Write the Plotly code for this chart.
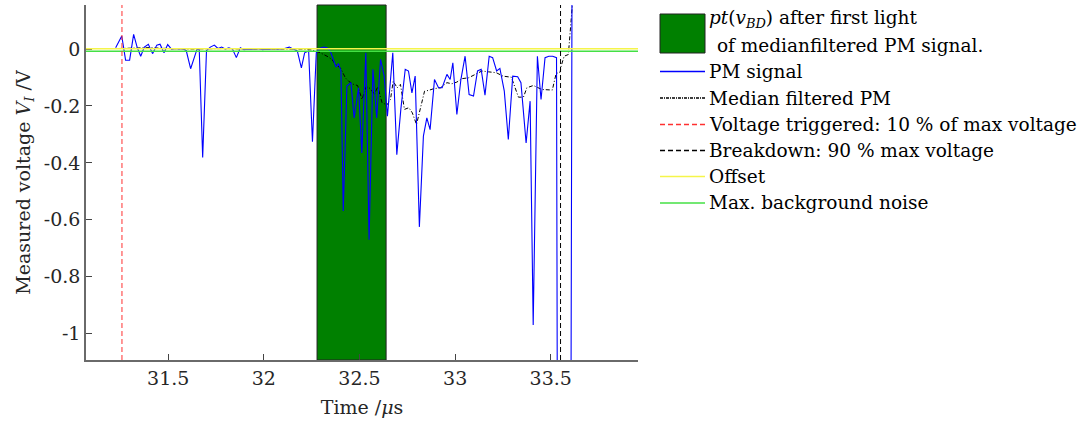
import plotly.graph_objects as go

# ---- data ----
pm_time = [31.225, 31.257, 31.277, 31.298, 31.319, 31.338, 31.356, 31.375, 31.396, 31.418,
           31.440, 31.457, 31.478, 31.497, 31.518, 31.537, 31.556, 31.575, 31.594, 31.617,
           31.636, 31.650, 31.662, 31.680, 31.700, 31.720, 31.741, 31.760, 31.779, 31.798,
           31.817, 31.836, 31.856, 31.877, 31.896, 31.915, 31.935, 31.954, 31.973, 31.993,
           32.012, 32.031, 32.050, 32.070, 32.089, 32.108, 32.133, 32.155, 32.175, 32.196,
           32.213, 32.234, 32.254, 32.274, 32.293, 32.312, 32.330, 32.347, 32.364, 32.377,
           32.390, 32.403, 32.415, 32.434, 32.455, 32.472, 32.495, 32.512, 32.533, 32.550,
           32.570, 32.590, 32.610, 32.629, 32.646, 32.674, 32.695, 32.716, 32.739, 32.756,
           32.774, 32.791, 32.813, 32.834, 32.852, 32.869, 32.892, 32.913, 32.932, 32.957,
           32.974, 32.988, 33.009, 33.030, 33.052, 33.073, 33.096, 33.117, 33.136, 33.156,
           33.178, 33.196, 33.217, 33.234, 33.257, 33.278, 33.301, 33.327, 33.344, 33.371,
           33.392, 33.408, 33.430, 33.449, 33.470, 33.490, 33.510, 33.530, 33.550, 33.570,
           33.592, 33.612]
pm_volt = [0.005, 0.046, -0.039, -0.039, 0.052, 0.005, -0.025, 0.007, 0.017, -0.016,
           0.014, 0.017, -0.013, 0.016, -0.001, 0.002, 0.000, 0.001, -0.005, -0.069,
           -0.030, -0.001, 0.000, -0.381, -0.005, 0.007, 0.014, 0.002, 0.007, 0.000,
           0.004, 0.000, -0.030, 0.005, -0.002, 0.000, -0.001, 0.000, 0.001, -0.002,
           0.000, -0.001, 0.002, -0.001, 0.000, 0.002, 0.007, -0.001, -0.007, -0.066,
           -0.013, -0.007, -0.326, -0.013, 0.003, 0.007, 0.005, -0.007, -0.036, -0.063,
           -0.051, -0.077, -0.569, -0.130, -0.118, -0.242, -0.136, -0.365, -0.013, -0.670,
           -0.071, -0.242, -0.036, -0.095, -0.236, -0.013, -0.371, -0.212, -0.071, -0.077,
           -0.154, -0.095, -0.625, -0.306, -0.242, -0.283, -0.107, -0.136, -0.136, -0.089,
           -0.107, -0.048, -0.230, -0.107, -0.025, -0.160, -0.165, -0.077, -0.071, -0.162,
           -0.025, -0.030, -0.077, -0.068, -0.148, -0.318, -0.095, -0.097, -0.118, -0.330,
           -0.183, -0.970, -0.025, -0.177, -0.030, -0.025, -0.025, -0.030, -6.0, -6.0,
           -5.0, 0.5]

med_time = [31.240, 31.300, 31.400, 31.500, 31.600, 31.700, 31.800, 31.900, 32.000, 32.100,
            32.200, 32.250, 32.274, 32.295, 32.330, 32.356, 32.374, 32.400, 32.426, 32.443,
            32.469, 32.490, 32.513, 32.536, 32.557, 32.578, 32.595, 32.618, 32.644, 32.662,
            32.676, 32.697, 32.714, 32.735, 32.758, 32.776, 32.798, 32.819, 32.840, 32.862,
            32.889, 32.924, 32.957, 32.983, 33.009, 33.035, 33.070, 33.105, 33.140, 33.175,
            33.215, 33.250, 33.294, 33.331, 33.357, 33.375, 33.409, 33.453, 33.508, 33.528,
            33.549, 33.554, 33.570, 33.592, 33.601, 33.612]
med_volt = [0.002, 0.003, 0.005, 0.002, 0.000, 0.001, 0.002, 0.000, 0.000, 0.001,
            0.000, -0.003, -0.007, -0.013, -0.025, -0.036, -0.054, -0.066, -0.101, -0.113,
            -0.124, -0.128, -0.177, -0.132, -0.139, -0.160, -0.132, -0.189, -0.196, -0.177,
            -0.113, -0.136, -0.124, -0.212, -0.206, -0.224, -0.265, -0.201, -0.148, -0.145,
            -0.139, -0.136, -0.118, -0.122, -0.116, -0.104, -0.101, -0.089, -0.077, -0.080,
            -0.083, -0.095, -0.099, -0.169, -0.169, -0.136, -0.128, -0.142, -0.144, -0.086,
            -0.081, -0.060, -0.025, -0.019, 0.058, 0.150]

t_trigger = 31.258
t_breakdown = 33.551
window_start = 32.278
window_end = 32.639
offset_level = 0.001
noise_level = -0.008

x_range = [31.07, 33.956]
y_range = [-1.093, 0.155]
x_ticks = [31.5, 32, 32.5, 33, 33.5]
x_ticktext = ["31.5", "32", "32.5", "33", "33.5"]
y_ticks = [-1, -0.8, -0.6, -0.4, -0.2, 0]
y_ticktext = ["-1", "-0.8", "-0.6", "-0.4", "-0.2", "0"]

legend_labels = [
    "<i>pt</i>(<i>v</i><sub><i>BD</i></sub>) after first light",
    " of medianfiltered PM signal.",
    "PM signal",
    "Median filtered PM",
    "Voltage triggered: 10 % of max voltage",
    "Breakdown: 90 % max voltage",
    "Offset",
    "Max. background noise",
]

FONT = "DejaVu Serif"
FS = 19
LFS = 18.5
W, H = 1091, 427
ML, MR, MT, MB = 86, W - 638, 5, H - 360
PW, PH = W - ML - MR, H - MT - MB


def px(xp):
    return (xp - ML) / PW


def py(yp):
    return (H - MB - yp) / PH


fig = go.Figure()

fig.add_trace(go.Scatter(x=med_time, y=med_volt, mode="lines",
                         line=dict(color="black", width=1, dash="4px,2px,1px,2px"),
                         showlegend=False))
fig.add_trace(go.Scatter(x=pm_time, y=pm_volt, mode="lines",
                         line=dict(color="#0000ff", width=1.1), showlegend=False))

shapes = []
shapes.append(dict(type="rect", xref="x", yref="paper", x0=window_start, x1=window_end,
                   y0=0, y1=1, fillcolor="#008000", line=dict(color="#222222", width=1),
                   layer="below"))
shapes.append(dict(type="line", xref="paper", yref="y", x0=0, x1=1, y0=offset_level,
                   y1=offset_level, line=dict(color="#f5f54a", width=1.5)))
shapes.append(dict(type="line", xref="paper", yref="y", x0=0, x1=1, y0=noise_level,
                   y1=noise_level, line=dict(color="#44e044", width=1.5)))
shapes.append(dict(type="line", xref="x", yref="paper", x0=t_trigger, x1=t_trigger,
                   y0=0, y1=1, line=dict(color="#ff3030", width=1, dash="5px,3px")))
shapes.append(dict(type="line", xref="x", yref="paper", x0=t_breakdown, x1=t_breakdown,
                   y0=0, y1=1, line=dict(color="black", width=1, dash="5px,3px")))

# ---- manual legend ----
lx0, lx1, tx = 660, 705, 707
shapes.append(dict(type="rect", xref="paper", yref="paper", x0=px(lx0), x1=px(lx1),
                   y0=py(53), y1=py(14), fillcolor="#008000",
                   line=dict(color="#222222", width=1)))
sample_styles = [
    (71.5, "#0000ff", "solid"),
    (98, "black", "3px,1px,1px,1px"),
    (124.5, "#ff3030", "5px,3px"),
    (150.5, "black", "5px,3px"),
    (176.5, "#f5f54a", "solid"),
    (203, "#44e044", "solid"),
]
for yy, col, dash in sample_styles:
    shapes.append(dict(type="line", xref="paper", yref="paper", x0=px(lx0), x1=px(lx1),
                       y0=py(yy), y1=py(yy), line=dict(color=col, width=1.3, dash=dash)))

annotations = []
label_pos = [(tx, 19), (tx + 2, 46), (tx, 71.5), (tx, 98), (tx, 124.5), (tx, 150.5),
             (tx, 176.5), (tx, 203)]
for (xx, yy), txt in zip(label_pos, legend_labels):
    annotations.append(dict(text=txt, xref="paper", yref="paper", x=px(xx), y=py(yy),
                            xanchor="left", yanchor="middle", showarrow=False,
                            font=dict(family=FONT, size=LFS, color="black")))

fig.update_layout(
    width=W, height=H,
    margin=dict(l=ML, r=MR, t=MT, b=MB, pad=0),
    paper_bgcolor="white", plot_bgcolor="white",
    shapes=shapes, annotations=annotations,
    showlegend=False,
    font=dict(family=FONT, size=FS, color="#262626"),
)
axis_common = dict(showgrid=False, zeroline=False, showline=True, linecolor="#6a6a6a",
                   linewidth=1.5, ticks="inside", ticklen=6, tickcolor="#444444",
                   tickwidth=1, tickfont=dict(family=FONT, size=FS, color="#262626"))
fig.update_xaxes(range=x_range, tickvals=x_ticks, ticktext=x_ticktext,
                 title=dict(text="Time /<i>μ</i>s", font=dict(family=FONT, size=FS, color="#262626"),
                            standoff=13), **axis_common)
fig.update_yaxes(range=y_range, tickvals=y_ticks, ticktext=y_ticktext,
                 title=dict(text="Measured voltage <i>V</i><sub><i>I</i></sub> /V",
                            font=dict(family=FONT, size=FS, color="#262626"), standoff=8),
                 **axis_common)

fig.write_html("out.html")
